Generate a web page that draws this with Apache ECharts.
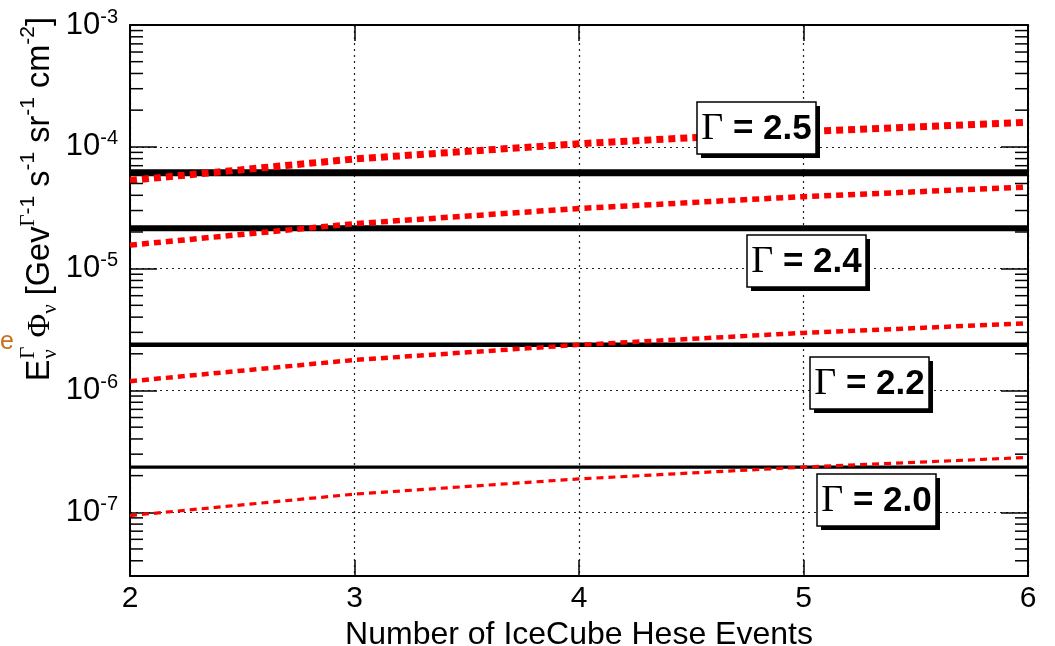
<!DOCTYPE html>
<html>
<head>
<meta charset="utf-8">
<script src="https://cdn.jsdelivr.net/npm/echarts@6/dist/echarts.min.js"></script>
<style>
  html, body { margin: 0; padding: 0; background: #fff; }
  #chart { width: 1055px; height: 646px; }
</style>
</head>
<body>
<div id="chart"></div>
<script>
// Number of IceCube HESE events (x axis)
const events = [2, 3, 4, 5, 6];

// Flux required for the given number of events, one curve per spectral index
const fluxG25 = [5.3e-5, 7.95e-5, 1.06e-4, 1.33e-4, 1.59e-4];
const fluxG24 = [1.56e-5, 2.34e-5, 3.12e-5, 3.9e-5, 4.68e-5];
const fluxG22 = [1.19e-6, 1.78e-6, 2.37e-6, 2.97e-6, 3.56e-6];
const fluxG20 = [9.4e-8, 1.41e-7, 1.88e-7, 2.35e-7, 2.82e-7];

// Flux limits drawn as horizontal lines (Γ = 2.5, 2.4, 2.2, 2.0)
const fluxLimits = [6.14e-5, 2.15e-5, 2.37e-6, 2.35e-7];

// Spectral index labels
const gammaLabels = ['2.5', '2.4', '2.2', '2.0'];

// Axis ranges
const xRange = [2, 6];
const yRange = [3e-8, 1e-3];

const curves = [fluxG25, fluxG24, fluxG22, fluxG20];
const curveWidths = [7, 5.5, 4.5, 3.2];
const limitWidths = [7, 6, 4.5, 3.2];

// Minor tick positions on the log axis: 2..9 x 10^n
const minorTicks = [];
for (let e = -8; e <= -4; e++) {
  for (let m = 2; m <= 9; m++) {
    const v = m * Math.pow(10, e);
    if (v > yRange[0] && v < yRange[1]) minorTicks.push(v);
  }
}

const SANS = 'Liberation Sans, Arial, Helvetica, sans-serif';
const SERIF = 'Liberation Serif, Times New Roman, serif';

const series = [];

fluxLimits.forEach((v, i) => {
  series.push({
    type: 'line',
    name: 'limit ' + gammaLabels[i],
    data: [[xRange[0], v], [xRange[1], v]],
    symbol: 'none',
    silent: true,
    lineStyle: { color: '#000', width: limitWidths[i], cap: 'butt' },
    z: 3
  });
});

curves.forEach((c, i) => {
  series.push({
    type: 'line',
    name: 'Γ = ' + gammaLabels[i],
    data: events.map((x, k) => [x, c[k]]),
    symbol: 'none',
    silent: true,
    lineStyle: { color: '#ff0000', width: curveWidths[i], type: [7, 5], cap: 'butt' },
    z: 4
  });
});

// ROOT-style minor ticks on both vertical frame edges
series.push({
  type: 'custom',
  silent: true,
  data: minorTicks.map(v => [xRange[0], v]),
  renderItem(params, api) {
    const cs = params.coordSys;
    const y = api.coord([xRange[0], api.value(1)])[1];
    return {
      type: 'group',
      children: [
        { type: 'line', shape: { x1: cs.x, y1: y, x2: cs.x + 13, y2: y }, style: { stroke: '#000', lineWidth: 1.5 } },
        { type: 'line', shape: { x1: cs.x + cs.width - 13, y1: y, x2: cs.x + cs.width, y2: y }, style: { stroke: '#000', lineWidth: 1.5 } }
      ]
    };
  },
  z: 5
});

// Label boxes with drop shadow
const boxes = [
  { x: 697, y: 102 },
  { x: 747, y: 235 },
  { x: 810, y: 357 },
  { x: 817, y: 474 }
];
const BW = 119, BH = 52;
const graphics = boxes.map((b, i) => ({
  type: 'group',
  x: b.x, y: b.y,
  children: [
    { type: 'rect', z: 100, shape: { x: 4, y: 4, width: BW, height: BH }, style: { fill: '#000' } },
    { type: 'rect', z: 101, shape: { x: 0, y: 0, width: BW, height: BH }, style: { fill: '#fff', stroke: '#000', lineWidth: 1.5 } },
    {
      type: 'text', z: 102, x: BW / 2, y: BH / 2 + 1,
      style: {
        text: '{g|Γ}{t| = ' + gammaLabels[i] + '}',
        align: 'center', verticalAlign: 'middle',
        rich: {
          g: { fontFamily: SERIF, fontSize: 38, fill: '#000' },
          t: { fontFamily: SANS, fontWeight: 'bold', fontSize: 35, fill: '#000' }
        }
      }
    }
  ]
}));

// Vertical axis title, laid out piece by piece along the rotated baseline
const measureCtx = document.createElement('canvas').getContext('2d');
function textWidth(str, size, family) {
  measureCtx.font = size + 'px ' + family;
  return measureCtx.measureText(str).width;
}
const T_MAIN = 32.5, T_SCRIPT = 21;
// kind: 'm' main, 'sup' superscript, 'sub' subscript, 'stack' sup+sub at same position
const titlePieces = [
  { kind: 'm', text: 'E', fam: SANS },
  { kind: 'stack', sup: 'Γ', sub: 'ν' },
  { kind: 'm', text: ' ', fam: SANS },
  { kind: 'm', text: 'Φ', fam: SERIF },
  { kind: 'sub', text: 'ν', fam: SERIF },
  { kind: 'm', text: ' [Gev', fam: SANS },
  { kind: 'sup', text: 'Γ', fam: SERIF },
  { kind: 'sup', text: '-1', fam: SANS },
  { kind: 'm', text: ' s', fam: SANS },
  { kind: 'sup', text: '-1', fam: SANS },
  { kind: 'm', text: ' sr', fam: SANS },
  { kind: 'sup', text: '-1', fam: SANS },
  { kind: 'm', text: ' cm', fam: SANS },
  { kind: 'sup', text: '-2', fam: SANS },
  { kind: 'm', text: ']', fam: SANS }
];
const SUP_OFF = -12, SUB_OFF = 10;
const titleChildren = [];
let lx = 0;
titlePieces.forEach(p => {
  if (p.kind === 'stack') {
    const w1 = textWidth(p.sup, T_SCRIPT, SERIF), w2 = textWidth(p.sub, T_SCRIPT, SERIF);
    titleChildren.push({ type: 'text', x: lx + 1, y: SUP_OFF, style: { text: p.sup, fontFamily: SERIF, fontSize: T_SCRIPT, fill: '#000', verticalAlign: 'middle' } });
    titleChildren.push({ type: 'text', x: lx + 1, y: SUB_OFF, style: { text: p.sub, fontFamily: SERIF, fontSize: T_SCRIPT, fill: '#000', verticalAlign: 'middle' } });
    lx += Math.max(w1, w2) + 1;
  } else {
    const size = p.kind === 'm' ? T_MAIN : T_SCRIPT;
    const off = p.kind === 'sup' ? SUP_OFF : (p.kind === 'sub' ? SUB_OFF : 0);
    titleChildren.push({ type: 'text', x: lx, y: off, style: { text: p.text, fontFamily: p.fam, fontSize: size, fill: '#000', verticalAlign: 'middle' } });
    lx += textWidth(p.text, size, p.fam);
  }
});
const titleLen = lx;
const titleTop = 17;
graphics.push({
  type: 'group',
  x: 40, y: titleTop + titleLen,
  rotation: Math.PI / 2,
  children: titleChildren
});

// Stray orange glyph at the left margin
graphics.push({
  type: 'text', x: 0, y: 330,
  style: { text: 'e', fontFamily: SANS, fontSize: 25, fill: '#c8701e' }
});

const gridLine = { show: true, lineStyle: { color: '#222', width: 1.2, type: [2, 4] } };

const yLabelFormatter = v => {
  const e = Math.log10(v);
  const r = Math.round(e);
  if (Math.abs(e - r) > 1e-6) return '';
  return '{a|10}{b|' + r + '}';
};

const chart = echarts.init(document.getElementById('chart'), null, { renderer: 'canvas' });
chart.setOption({
  backgroundColor: '#fff',
  animation: false,
  grid: { left: 130, right: 27, top: 25, bottom: 70, containLabel: false, outerBoundsMode: 'none' },
  xAxis: [
    {
      type: 'value', position: 'bottom', min: xRange[0], max: xRange[1], interval: 1,
      name: 'Number of IceCube Hese Events', nameLocation: 'middle', nameGap: 40,
      nameTextStyle: { fontFamily: SANS, fontSize: 32, color: '#000' },
      axisLine: { show: true, onZero: false, lineStyle: { color: '#000', width: 2 } },
      axisTick: { show: true, inside: true, length: 16, lineStyle: { color: '#000', width: 1.5 } },
      axisLabel: { fontFamily: SANS, fontSize: 30, color: '#000', margin: 8 },
      splitLine: gridLine
    },
    {
      type: 'value', position: 'top', min: xRange[0], max: xRange[1], interval: 1,
      axisLine: { show: true, onZero: false, lineStyle: { color: '#000', width: 2 } },
      axisTick: { show: true, inside: true, length: 16, lineStyle: { color: '#000', width: 1.5 } },
      axisLabel: { show: false },
      splitLine: { show: false }
    }
  ],
  yAxis: [
    {
      type: 'log', logBase: 10, position: 'left', min: yRange[0], max: yRange[1],
      axisLine: { show: true, onZero: false, lineStyle: { color: '#000', width: 2 } },
      axisTick: { show: true, inside: true, length: 27, lineStyle: { color: '#000', width: 1.5 } },
      axisLabel: {
        formatter: yLabelFormatter, margin: 12,
        rich: {
          a: { fontFamily: SANS, fontSize: 31, lineHeight: 36, color: '#000' },
          b: { fontFamily: SANS, fontSize: 20, lineHeight: 22, verticalAlign: 'top', color: '#000' }
        }
      },
      splitLine: gridLine
    },
    {
      type: 'log', logBase: 10, position: 'right', min: yRange[0], max: yRange[1],
      axisLine: { show: true, onZero: false, lineStyle: { color: '#000', width: 2 } },
      axisTick: { show: true, inside: true, length: 27, lineStyle: { color: '#000', width: 1.5 } },
      axisLabel: { show: false },
      splitLine: { show: false }
    }
  ],
  series: series,
  graphic: graphics
});
</script>
</body>
</html>
